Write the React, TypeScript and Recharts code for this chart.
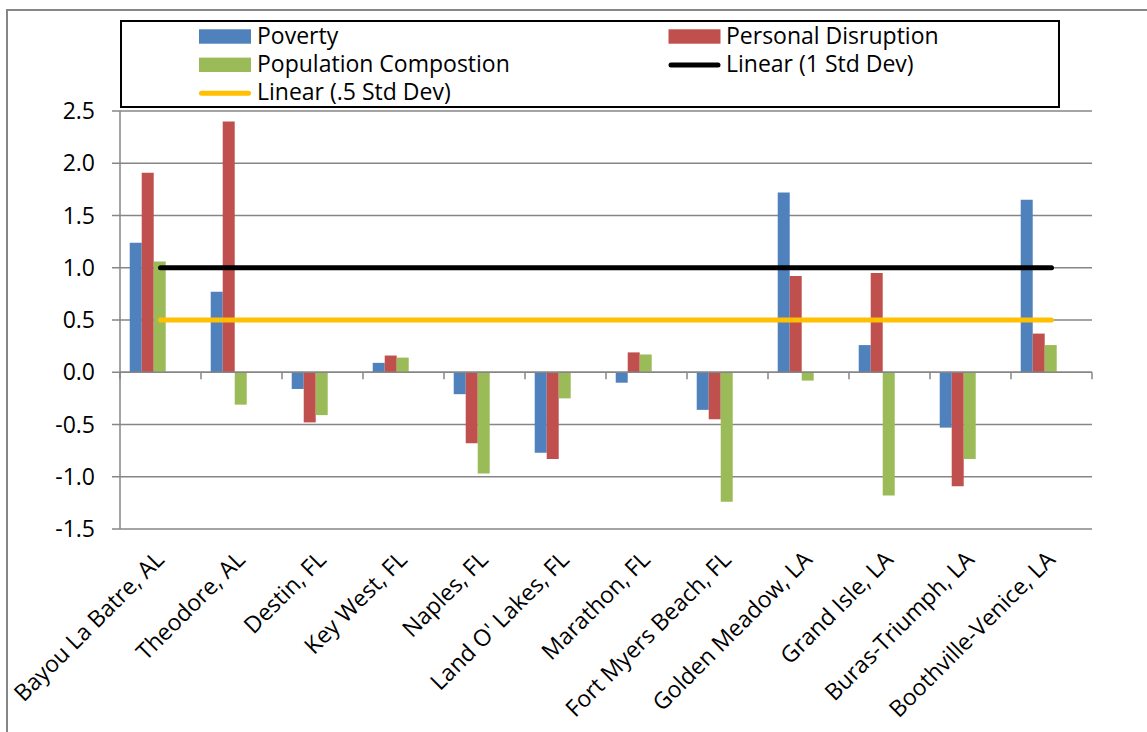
import React from 'react';
import { ComposedChart, Bar, Line, XAxis, YAxis, CartesianGrid, ReferenceLine, Legend } from 'recharts';

const categories = [
  'Bayou La Batre, AL',
  'Theodore, AL',
  'Destin, FL',
  'Key West, FL',
  'Naples, FL',
  "Land O' Lakes, FL",
  'Marathon, FL',
  'Fort Myers Beach, FL',
  'Golden Meadow, LA',
  'Grand Isle, LA',
  'Buras-Triumph, LA',
  'Boothville-Venice, LA',
];
const poverty = [1.24, 0.77, -0.16, 0.09, -0.21, -0.77, -0.1, -0.36, 1.72, 0.26, -0.53, 1.65];
const personalDisruption = [1.91, 2.4, -0.48, 0.16, -0.68, -0.83, 0.19, -0.45, 0.92, 0.95, -1.09, 0.37];
const populationComposition = [1.06, -0.31, -0.41, 0.14, -0.97, -0.25, 0.17, -1.24, -0.08, -1.18, -0.83, 0.26];
const oneStdDev = [1, 1, 1, 1, 1, 1, 1, 1, 1, 1, 1, 1];
const halfStdDev = [0.5, 0.5, 0.5, 0.5, 0.5, 0.5, 0.5, 0.5, 0.5, 0.5, 0.5, 0.5];
const yTicks = [-1.5, -1, -0.5, 0, 0.5, 1, 1.5, 2, 2.5];

const seriesNames = ['Poverty', 'Personal Disruption', 'Population Compostion', 'Linear (1 Std Dev)', 'Linear (.5 Std Dev)'];
const seriesColors = ['#4F81BD', '#C0504D', '#9BBB59', '#000000', '#FFC000'];
const seriesKinds = ['bar', 'bar', 'bar', 'line', 'line'];

const data = categories.map((c, i) => ({
  name: c,
  poverty: poverty[i],
  personal: personalDisruption[i],
  population: populationComposition[i],
  sd1: oneStdDev[i],
  sd05: halfStdDev[i],
}));

const W = 1147;
const H = 732;
const M_TOP = 111;
const M_RIGHT = 55;
const Y_AXIS_W = 120;
const X_AXIS_H = 203;
const Y_MIN = -1.5;
const Y_MAX = 2.5;
const PLOT_W = W - Y_AXIS_W - M_RIGHT;
const PLOT_H = H - M_TOP - X_AXIS_H;
const BAND = PLOT_W / categories.length;
const ZERO_Y = M_TOP + (PLOT_H * Y_MAX) / (Y_MAX - Y_MIN);
const FONT = "'Open Sans', sans-serif";
const FONT_SIZE = 23;
const AXIS_GRAY = '#868686';

const XTick = (props: any) => {
  const { x, y, payload, index } = props;
  const left = x - BAND / 2;
  const right = x + BAND / 2;
  return (
    <g>
      <line x1={left} y1={ZERO_Y} x2={left} y2={ZERO_Y + 7} stroke={AXIS_GRAY} strokeWidth={1.5} />
      {index === categories.length - 1 && (
        <line x1={right} y1={ZERO_Y} x2={right} y2={ZERO_Y + 7} stroke={AXIS_GRAY} strokeWidth={1.5} />
      )}
      <text
        x={0}
        y={0}
        transform={`translate(${x + 5},${y + 32}) rotate(-45)`}
        textAnchor="end"
        fontSize={FONT_SIZE}
        fontFamily={FONT}
        fill="#000"
      >
        {payload.value}
      </text>
    </g>
  );
};

const LEG_W = 940;
const LEG_H = 88;

const LegendBox = () => {
  const rows = [
    [0, 1],
    [2, 3],
    [4, -1],
  ];
  return (
    <svg width={LEG_W} height={LEG_H} style={{ display: 'block' }}>
      <rect x={1} y={1} width={LEG_W - 2} height={LEG_H - 2} fill="#fff" stroke="#000" strokeWidth={2} />
      {rows.map((r, ri) =>
        r.map((si, ci) => {
          if (si < 0) return null;
          const base = 23.7 + ri * 28.3;
          const sx = ci === 0 ? 79 : 548.5;
          const tx = ci === 0 ? 137 : 606;
          return (
            <g key={`${ri}-${ci}`}>
              {seriesKinds[si] === 'bar' ? (
                <rect x={sx} y={base - 14.4} width={52} height={14.4} fill={seriesColors[si]} />
              ) : (
                <line x1={sx + 2.5} y1={base - 7} x2={sx + 49.5} y2={base - 7} stroke={seriesColors[si]} strokeWidth={5} strokeLinecap="round" />
              )}
              <text x={tx} y={base} fontSize={FONT_SIZE} fontFamily={FONT} fill="#000">
                {seriesNames[si]}
              </text>
            </g>
          );
        })
      )}
    </svg>
  );
};

export default function App() {
  return (
    <div style={{ position: 'absolute', left: 0, top: 0, width: W, height: H, overflow: 'hidden', background: '#fff' }}>
      <div
        style={{
          position: 'absolute',
          left: 6,
          top: 9,
          width: 1300,
          height: 900,
          border: `2px solid ${AXIS_GRAY}`,
          boxSizing: 'border-box',
        }}
      />
      <div style={{ position: 'absolute', left: 0, top: 0 }}>
        <ComposedChart
          width={W}
          height={H}
          data={data}
          margin={{ top: M_TOP, right: M_RIGHT, bottom: 0, left: 0 }}
          barCategoryGap="12%"
          barGap={0}
        >
          <CartesianGrid vertical={false} stroke={AXIS_GRAY} strokeWidth={1.5} />
          <XAxis
            dataKey="name"
            height={X_AXIS_H}
            axisLine={false}
            tickLine={false}
            tickSize={0}
            tickMargin={0}
            interval={0}
            tick={<XTick />}
          />
          <YAxis
            width={Y_AXIS_W}
            domain={[Y_MIN, Y_MAX]}
            ticks={yTicks}
            type="number"
            allowDataOverflow
            tickFormatter={(v: number) => v.toFixed(1)}
            axisLine={{ stroke: AXIS_GRAY, strokeWidth: 1.5 }}
            tickLine={{ stroke: AXIS_GRAY, strokeWidth: 1.5 }}
            tickSize={8}
            tickMargin={17}
            tick={{ fontSize: FONT_SIZE, fontFamily: FONT, fill: '#000' }}
          />
          <Legend
            layout="horizontal"
            verticalAlign="middle"
            align="center"
            wrapperStyle={{ left: 120, top: 19.5, width: LEG_W, height: LEG_H }}
            content={() => <LegendBox />}
          />
          <Bar dataKey="poverty" fill={seriesColors[0]} isAnimationActive={false} />
          <Bar dataKey="personal" fill={seriesColors[1]} isAnimationActive={false} />
          <Bar dataKey="population" fill={seriesColors[2]} isAnimationActive={false} />
          <Bar dataKey="sd1" fill="none" legendType="none" isAnimationActive={false} />
          <Bar dataKey="sd05" fill="none" legendType="none" isAnimationActive={false} />
          <ReferenceLine y={0} stroke={AXIS_GRAY} strokeWidth={1.5} />
          <Line type="linear" dataKey="sd1" stroke={seriesColors[3]} strokeWidth={5} strokeLinecap="round" dot={false} activeDot={false} isAnimationActive={false} />
          <Line type="linear" dataKey="sd05" stroke={seriesColors[4]} strokeWidth={5} strokeLinecap="round" dot={false} activeDot={false} isAnimationActive={false} />
        </ComposedChart>
      </div>
    </div>
  );
}
